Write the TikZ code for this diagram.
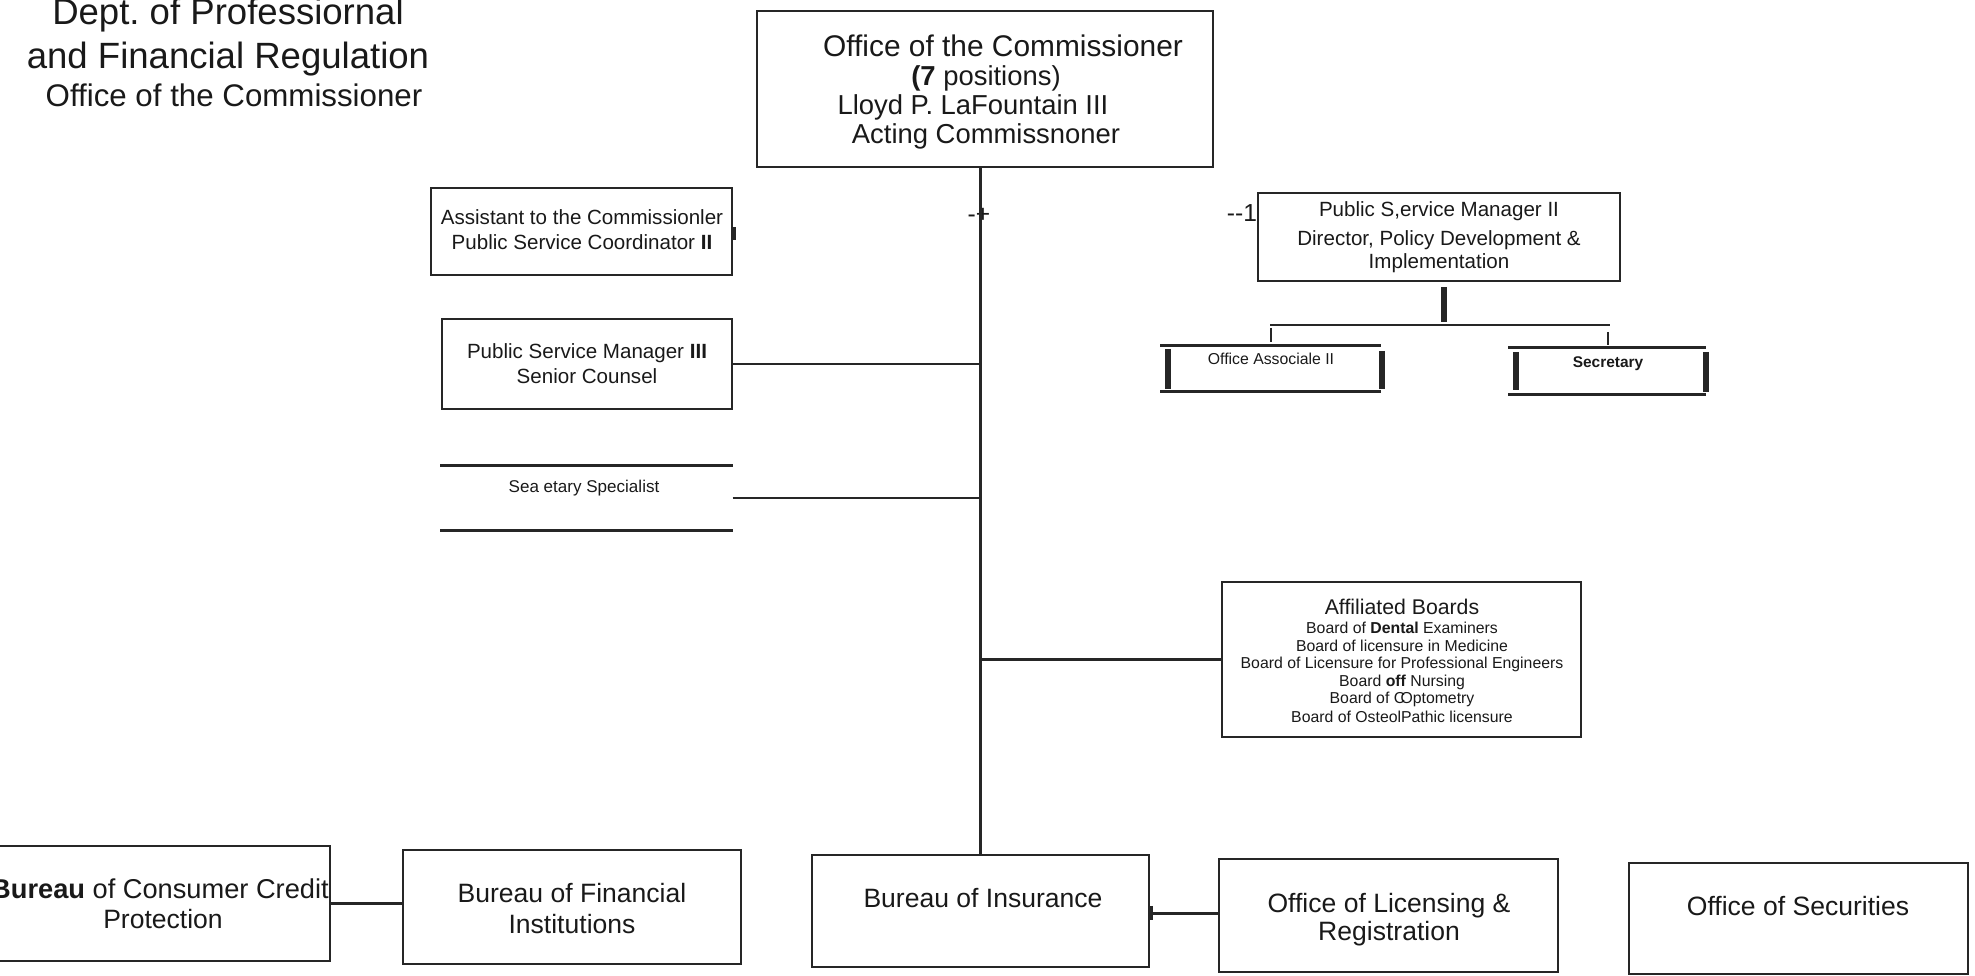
\documentclass[tikz,border=0pt]{standalone}
\usepackage{fontspec}
\setmainfont{Liberation Sans}
\usetikzlibrary{calc}
\begin{document}
\begin{tikzpicture}[x=0.1mm,y=-0.1mm,
  ln/.style={draw=black!85,line width=0.75pt},
  bx/.style={ln,rectangle,inner sep=0pt},
  nob/.style={rectangle,inner sep=0pt},
  bar/.style={draw=black!85,line width=1.5pt},
  tk/.style={draw=black!85,line width=0.45pt},
  tx/.style={inner sep=0pt,anchor=base,text=black!90},
  ftA/.style={tx,font=\fontsize{10.4}{12}\selectfont},
  ftB/.style={tx,font=\fontsize{8.9}{11}\selectfont},
  ftC/.style={tx,font=\fontsize{8.5}{10}\selectfont},
  ftCs/.style={tx,font=\fontsize{7.8}{9}\selectfont},
  ftM/.style={tx,font=\fontsize{7}{8}\selectfont},
  ftD/.style={tx,font=\fontsize{5.85}{7}\selectfont},
  ftE/.style={tx,font=\fontsize{4.5}{5.5}\selectfont},
  ftF/.style={tx,font=\fontsize{6.05}{7}\selectfont},
  ftG/.style={tx,font=\fontsize{7.55}{9}\selectfont}
]
\useasboundingbox (0,0) rectangle (1975,976);

% title
\node[ftA] (ti1) at (228,25) {Dept.\ of Professiornal};
\node[ftA] (ti2) at (228,69) {and Financial Regulation};
\node[ftB] (ti3) at (234,107) {Office of the Commissioner};

% boxes
\node[bx,minimum width=45.6mm,minimum height=15.6mm] (comm) at (985,89) {};
\node[bx,minimum width=30.1mm,minimum height=8.7mm] (asst) at (581.5,231.5) {};
\node[bx,minimum width=29.0mm,minimum height=9.0mm] (senior) at (587,364) {};
\node[nob,minimum width=29.1mm,minimum height=6.4mm] (secspec) at (586.5,498) {};
\node[bx,minimum width=36.2mm,minimum height=8.8mm] (dir) at (1439,237) {};
\node[nob,minimum width=21.9mm,minimum height=4.5mm] (assoc) at (1270.5,368.5) {};
\node[nob,minimum width=19.6mm,minimum height=4.6mm] (secr) at (1607,371) {};
\node[bx,minimum width=35.9mm,minimum height=15.5mm] (boards) at (1401.5,659.5) {};
\node[bx,minimum width=33.5mm,minimum height=11.5mm] (consumer) at (162.5,903.5) {};
\node[bx,minimum width=33.8mm,minimum height=11.4mm] (fin) at (572,907) {};
\node[bx,minimum width=33.7mm,minimum height=11.2mm] (ins) at (980.5,911) {};
\node[bx,minimum width=33.9mm,minimum height=11.3mm] (lic) at (1388.5,915.5) {};
\node[bx,minimum width=33.9mm,minimum height=11.1mm] (sec) at (1798.5,918.5) {};

% partial box outlines
\draw[ln] (secspec.north west) -- (secspec.north east);
\draw[ln] (secspec.south west) -- (secspec.south east);
\draw[ln] (assoc.north west) -- (assoc.north east);
\draw[ln] (assoc.south west) -- (assoc.south east);
\draw[bar] (1168,349) -- (1168,389);
\draw[bar] (1382,351) -- (1382,389);
\draw[ln] (secr.north west) -- (secr.north east);
\draw[ln] (secr.south west) -- (secr.south east);
\draw[bar] (1516,352) -- (1516,390);
\draw[bar] (1706,352) -- (1706,392);
\draw[draw=black!85,line width=1pt] ($(asst.east)+(1,-4)$) -- ($(asst.east)+(1,9)$);
\draw[draw=black!85,line width=1.2pt] ($(ins.east)+(1,-5)$) -- ($(ins.east)+(1,9)$);

% texts in boxes
\node[ftC] (c1) at (1003,57) {Office of the Commissioner};
\node[ftCs] (c2) at (986,86) {{\bfseries(7} positions)};
\node[ftCs] (c3) at (973,115) {Lloyd P. LaFountain III};
\node[ftCs] (c4) at (986,144) {Acting Commissnoner};

\node[ftM] (mk1) at (979,223) {-+};
\node[ftM] (mk2) at (1242,222) {-{}-1};

\node[ftD] (a1) at (582,225) {Assistant to the Commissionler};
\node[ftD] (a2) at (582,250) {Public Service Coordinator \textbf{II}};
\node[ftD] (s1) at (587,359) {Public Service Manager \textbf{III}};
\node[ftD] (s2) at (587,384) {Senior Counsel};
\node[ftE,font=\fontsize{4.85}{6}\selectfont] (ss) at (584,493) {Sea etary Specialist};

\node[ftD] (d1) at (1439,217) {Public S,ervice Manager II};
\node[ftD] (d2) at (1439,246) {Director, Policy Development \&};
\node[ftD] (d3) at (1439,269) {Implementation};
\node[ftE] (o1) at (1271,365) {Office Associale II};
\node[ftE,font=\fontsize{4.4}{5}\selectfont\bfseries] (se1) at (1608,368) {Secretary};

\node[ftF] (b0) at (1402,615) {Affiliated Boards};
\node[ftE] (b1) at (1402,634) {Board of \textbf{Dental} Examiners};
\node[ftE] (b2) at (1402,651.5) {Board of licensure in Medicine};
\node[ftE] (b3) at (1402,669) {Board of Licensure for Professional Engineers};
\node[ftE] (b4) at (1402,686.5) {Board \textbf{off} Nursing};
\node[ftE] (b5) at (1402,704) {Board of C\kern-0.3em Optometry};
\node[ftE] (b6) at (1402,722.5) {Board of OsteolPathic licensure};

\node[ftG,font=\fontsize{7.75}{9}\selectfont] (u1) at (160,899) {\textbf{Bureau} of Consumer Credit};
\node[ftG] (u2) at (163,929) {Protection};
\node[ftG] (f1) at (572,903) {Bureau of Financial};
\node[ftG] (f2) at (572,934) {Institutions};
\node[ftG] (i1) at (983,908) {Bureau of Insurance};
\node[ftG] (l1) at (1389,913) {Office of Licensing \&};
\node[ftG] (l2) at (1389,941) {Registration};
\node[ftG] (os) at (1798,916) {Office of Securities};

% connectors
\draw[ln] (comm.south -| ins.north) -- (ins.north);
\draw[ln] (senior.east) -- (senior.east -| ins.north);
\draw[ln] (secspec.east) -- (secspec.east -| ins.north);
\draw[ln] (boards.west -| ins.north) -- (boards.west);
\draw[ln] (consumer.east) -- (consumer.east -| fin.west);
\coordinate (mid) at ($(ins.east)!0.5!(lic.west)$);
\draw[ln] (mid -| ins.east) -- (mid -| lic.west);

\coordinate (dj) at (1444,325);
\coordinate (hl) at (1270,325);
\coordinate (hr) at (1610,325);
\draw[bar] ($(dir.south -| dj)+(0,5)$) -- ($(dj)+(0,-3)$);
\draw[ln] (hl) -- (hr);
\draw[tk] ($(hl)+(1,3)$) -- ($(hl)+(1,17)$);
\draw[tk] ($(hr)+(-2,7)$) -- ($(hr)+(-2,20)$);
\end{tikzpicture}
\end{document}
